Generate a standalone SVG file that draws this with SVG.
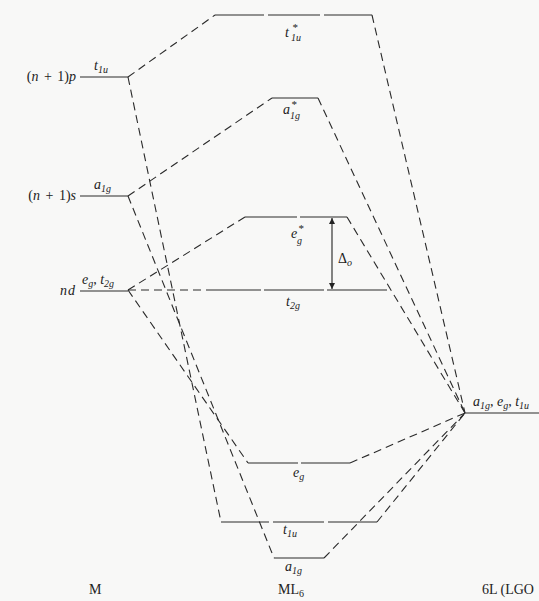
<svg xmlns="http://www.w3.org/2000/svg" width="539" height="601" viewBox="0 0 539 601">
<style>
.lv{stroke:#2a2a2a;stroke-width:1.2;fill:none}
.cn{stroke:#2a2a2a;stroke-width:1.1;fill:none;stroke-dasharray:8 5}
text{font-family:"Liberation Serif","Times New Roman",serif;font-size:14px;fill:#222}
.it{font-style:italic}
.sb{font-size:10px;font-style:italic}
.up{font-size:11px}
</style>
<defs>
<marker id="ah" viewBox="0 0 10 10" refX="10" refY="5" markerWidth="6" markerHeight="8" orient="auto" markerUnits="userSpaceOnUse">
<path d="M0,0 L10,5 L0,10 z" fill="#222"/>
</marker>
</defs>
<rect width="539" height="601" fill="#f8f8f7"/>

<g id="connectors">
<line class="cn" x1="128" y1="77" x2="215" y2="15"/>
<line class="cn" x1="128" y1="77" x2="221" y2="522"/>
<line class="cn" x1="128" y1="196" x2="272" y2="98"/>
<line class="cn" x1="128" y1="196" x2="274" y2="558"/>
<line class="cn" x1="128" y1="290" x2="245" y2="217"/>
<line class="cn" x1="128" y1="290" x2="213" y2="290"/>
<line class="cn" x1="128" y1="290" x2="248" y2="463"/>
<line class="cn" x1="372" y1="15" x2="465" y2="413"/>
<line class="cn" x1="318" y1="98" x2="465" y2="413"/>
<line class="cn" x1="347" y1="217" x2="465" y2="413"/>
<line class="cn" x1="350" y1="463" x2="465" y2="413"/>
<line class="cn" x1="377" y1="522" x2="465" y2="413"/>
<line class="cn" x1="324" y1="558" x2="465" y2="413"/>
</g>

<g id="M-np">
<line class="lv" x1="80" y1="77" x2="128" y2="77"/>
<text x="76" y="81" text-anchor="end" word-spacing="2">(<tspan class="it">n</tspan> + 1)<tspan class="it">p</tspan></text>
<text x="94" y="70" class="it">t<tspan class="sb" dy="3">1u</tspan></text>
</g>
<g id="M-ns">
<line class="lv" x1="80" y1="196" x2="128" y2="196"/>
<text x="76" y="200" text-anchor="end" word-spacing="2">(<tspan class="it">n</tspan> + 1)<tspan class="it">s</tspan></text>
<text x="94" y="189" class="it">a<tspan class="sb" dy="3">1g</tspan></text>
</g>
<g id="M-nd">
<line class="lv" x1="80" y1="291" x2="128" y2="291"/>
<text x="76" y="295" text-anchor="end" class="it" letter-spacing="1">nd</text>
<text x="82" y="284" class="it">e<tspan class="sb" dy="3">g</tspan><tspan dy="-3">, t</tspan><tspan class="sb" dy="3">2g</tspan></text>
</g>

<g id="t1u-star">
<path class="lv" d="M215,15 H264 M268,15 H320 M324,15 H372"/>
<text x="285" y="37" class="it">t<tspan class="up" x="292" y="31">*</tspan><tspan class="sb" x="291" y="41">1u</tspan></text>
</g>
<g id="a1g-star">
<line class="lv" x1="272" y1="98" x2="318" y2="98"/>
<text x="283" y="114" class="it">a<tspan class="up" x="291" y="108">*</tspan><tspan class="sb" x="290" y="119">1g</tspan></text>
</g>
<g id="eg-star">
<path class="lv" d="M245,217 H297 M300,217 H347"/>
<text x="291" y="238" class="it">e<tspan class="up" x="298" y="232">*</tspan><tspan class="sb" x="297" y="244">g</tspan></text>
</g>
<g id="delta">
<line stroke="#222" stroke-width="1.1" x1="332" y1="254" x2="332" y2="218" marker-end="url(#ah)"/>
<line stroke="#222" stroke-width="1.1" x1="332" y1="254" x2="332" y2="289" marker-end="url(#ah)"/>
<text x="338" y="263">Δ<tspan class="sb" dy="3">o</tspan></text>
</g>
<g id="t2g">
<path class="lv" d="M213,290 H261 M264,290 H324 M327,290 H387"/>
<text x="286" y="306" class="it">t<tspan class="sb" dy="3">2g</tspan></text>
</g>
<g id="eg">
<path class="lv" d="M248,463 H298 M301,463 H350"/>
<text x="293" y="477" class="it">e<tspan class="sb" dy="3">g</tspan></text>
</g>
<g id="t1u">
<path class="lv" d="M221,522 H269 M273,522 H324 M328,522 H377"/>
<text x="283" y="534" class="it">t<tspan class="sb" dy="3">1u</tspan></text>
</g>
<g id="a1g">
<line class="lv" x1="274" y1="558" x2="324" y2="558"/>
<text x="285" y="571" class="it">a<tspan class="sb" dy="3">1g</tspan></text>
</g>

<g id="ligand">
<line class="lv" x1="465" y1="413" x2="539" y2="413"/>
<text x="473" y="406" class="it">a<tspan class="sb" dy="3">1g</tspan><tspan dy="-3">, e</tspan><tspan class="sb" dy="3">g</tspan><tspan dy="-3">, t</tspan><tspan class="sb" dy="3">1u</tspan></text>
</g>

<g id="labels">
<text x="89" y="594">M</text>
<text x="278" y="594">ML<tspan font-size="10" dy="3">6</tspan></text>
<text x="482" y="594">6L (LGO</text>
</g>
</svg>
